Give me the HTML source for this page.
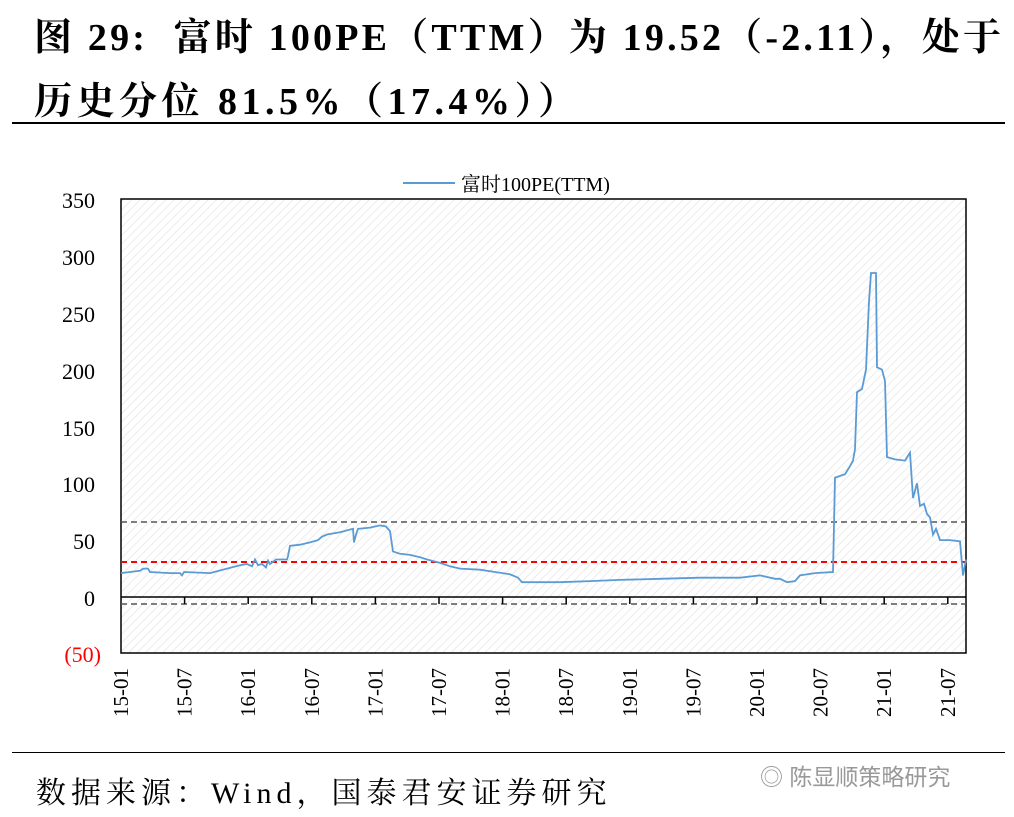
<!DOCTYPE html>
<html><head><meta charset="utf-8">
<style>
body{margin:0;background:#fff;width:1014px;height:817px;overflow:hidden;position:relative;font-family:"Liberation Serif","Noto Serif CJK SC",serif;}
.t{position:absolute;left:34px;font-weight:bold;font-size:38px;color:#000;white-space:nowrap;letter-spacing:3.2px}
</style></head><body>
<div class="t" style="top:6px;">图 29:&nbsp; 富时 100PE（TTM）为 19.52（-2.11），处于</div>
<div class="t" style="top:70px;letter-spacing:4.5px">历史分位 81.5%（17.4%））</div>
<div style="position:absolute;left:12px;top:122px;width:993px;height:2px;background:#000"></div>
<div style="position:absolute;left:12px;top:752px;width:993px;height:1px;background:#000"></div>
<div style="position:absolute;left:36px;top:768px;font-size:30px;letter-spacing:5px">数据来源：Wind，国泰君安证券研究</div>
<div style="position:absolute;left:760px;top:758px;font-size:23px;color:#999;font-family:'Liberation Sans','Noto Sans CJK SC',sans-serif">◎ 陈显顺策略研究</div>
<svg id="s" width="1014" height="817" style="position:absolute;left:0;top:0" xmlns="http://www.w3.org/2000/svg">
<defs><pattern id="h" width="6" height="6" patternUnits="userSpaceOnUse" patternTransform="rotate(45)"><line x1="0" y1="0" x2="0" y2="6" stroke="#e6e6e6" stroke-width="1.5"/></pattern></defs>
<rect x="121" y="199" width="845" height="454" fill="url(#h)" stroke="#000" stroke-width="1.5"/>
<line x1="121" y1="597" x2="966" y2="597" stroke="#000" stroke-width="1.5"/>
<line x1="121" y1="522" x2="966" y2="522" stroke="#555" stroke-width="1.5" stroke-dasharray="6,4"/>
<line x1="121" y1="562" x2="966" y2="562" stroke="#f00" stroke-width="2" stroke-dasharray="6,4"/>
<line x1="121" y1="604" x2="966" y2="604" stroke="#555" stroke-width="1.5" stroke-dasharray="6,4"/>
<g font-size="22" text-anchor="end" font-family="Liberation Serif,serif">
<text x="95" y="208">350</text><text x="95" y="265">300</text><text x="95" y="322">250</text><text x="95" y="379">200</text><text x="95" y="436">150</text><text x="95" y="492">100</text><text x="95" y="549">50</text><text x="95" y="606">0</text><text x="101" y="662" fill="#f00">(50)</text>
</g>
<line x1="403" y1="183" x2="455" y2="183" stroke="#5b9bd5" stroke-width="2"/>
<text x="461" y="191" font-size="20" font-family="Liberation Serif,'Noto Serif CJK SC',serif">富时100PE(TTM)</text>
<g id="ticks"></g><g id="xl" font-size="21" font-family="Liberation Serif,serif"></g>
<path id="p" fill="none" stroke="#5b9bd5" stroke-width="1.8"/>
</svg>
<script>
var X=function(m){return 121+m*10.6},Y=function(v){return 597-v*1.137};
var labs=["15-01","15-07","16-01","16-07","17-01","17-07","18-01","18-07","19-01","19-07","20-01","20-07","21-01","21-07"];
var t="",l="";
labs.forEach(function(s,i){var x=X(i*6);if(i>0)t+='<line x1="'+x+'" y1="597" x2="'+x+'" y2="604" stroke="#000" stroke-width="1.5"/>';
l+='<text transform="translate('+(x+7)+',668) rotate(-90)" text-anchor="end">'+s+'</text>';});
document.getElementById("ticks").innerHTML=t;document.getElementById("xl").innerHTML=l;
var d=[[121,21],[140,23],[143,25],[148,25],[150,22],[170,21],[180,21],[182,19],[184,22],[210,21],[227,25],[240,28],[247,29],[252,27],[255,33],[258,28],[262,29],[266,26],[268,32],[270,29],[276,33],[287,33],[288,36],[290,45],[300,46],[310,48],[318,50],[322,53],[327,55],[340,57],[353,60],[354,48],[356,55],[358,60],[370,61],[380,63],[386,62],[390,58],[393,40],[400,38],[410,37],[420,35],[427,33],[440,30],[450,27],[460,25],[480,24],[495,22],[510,20],[518,17],[522,13],[560,13],[590,14],[620,15],[660,16],[700,17],[740,17],[760,19],[765,18],[775,16],[780,16],[787,13],[795,14],[800,19],[815,21],[833,22],[835,105],[845,108],[850,115],[853,120],[855,130],[857,180],[862,183],[866,200],[869,260],[871,285],[876,285],[877,202],[882,200],[885,190],[887,123],[895,121],[905,120],[910,127],[913,87],[917,100],[920,80],[924,82],[927,73],[930,70],[933,55],[936,60],[940,50],[950,50],[960,49],[963,19],[966,33]];
document.getElementById("p").setAttribute("d",d.map(function(p,i){return(i?"L":"M")+p[0]+" "+Y(p[1]).toFixed(1)}).join(""));
</script>
</body></html>
